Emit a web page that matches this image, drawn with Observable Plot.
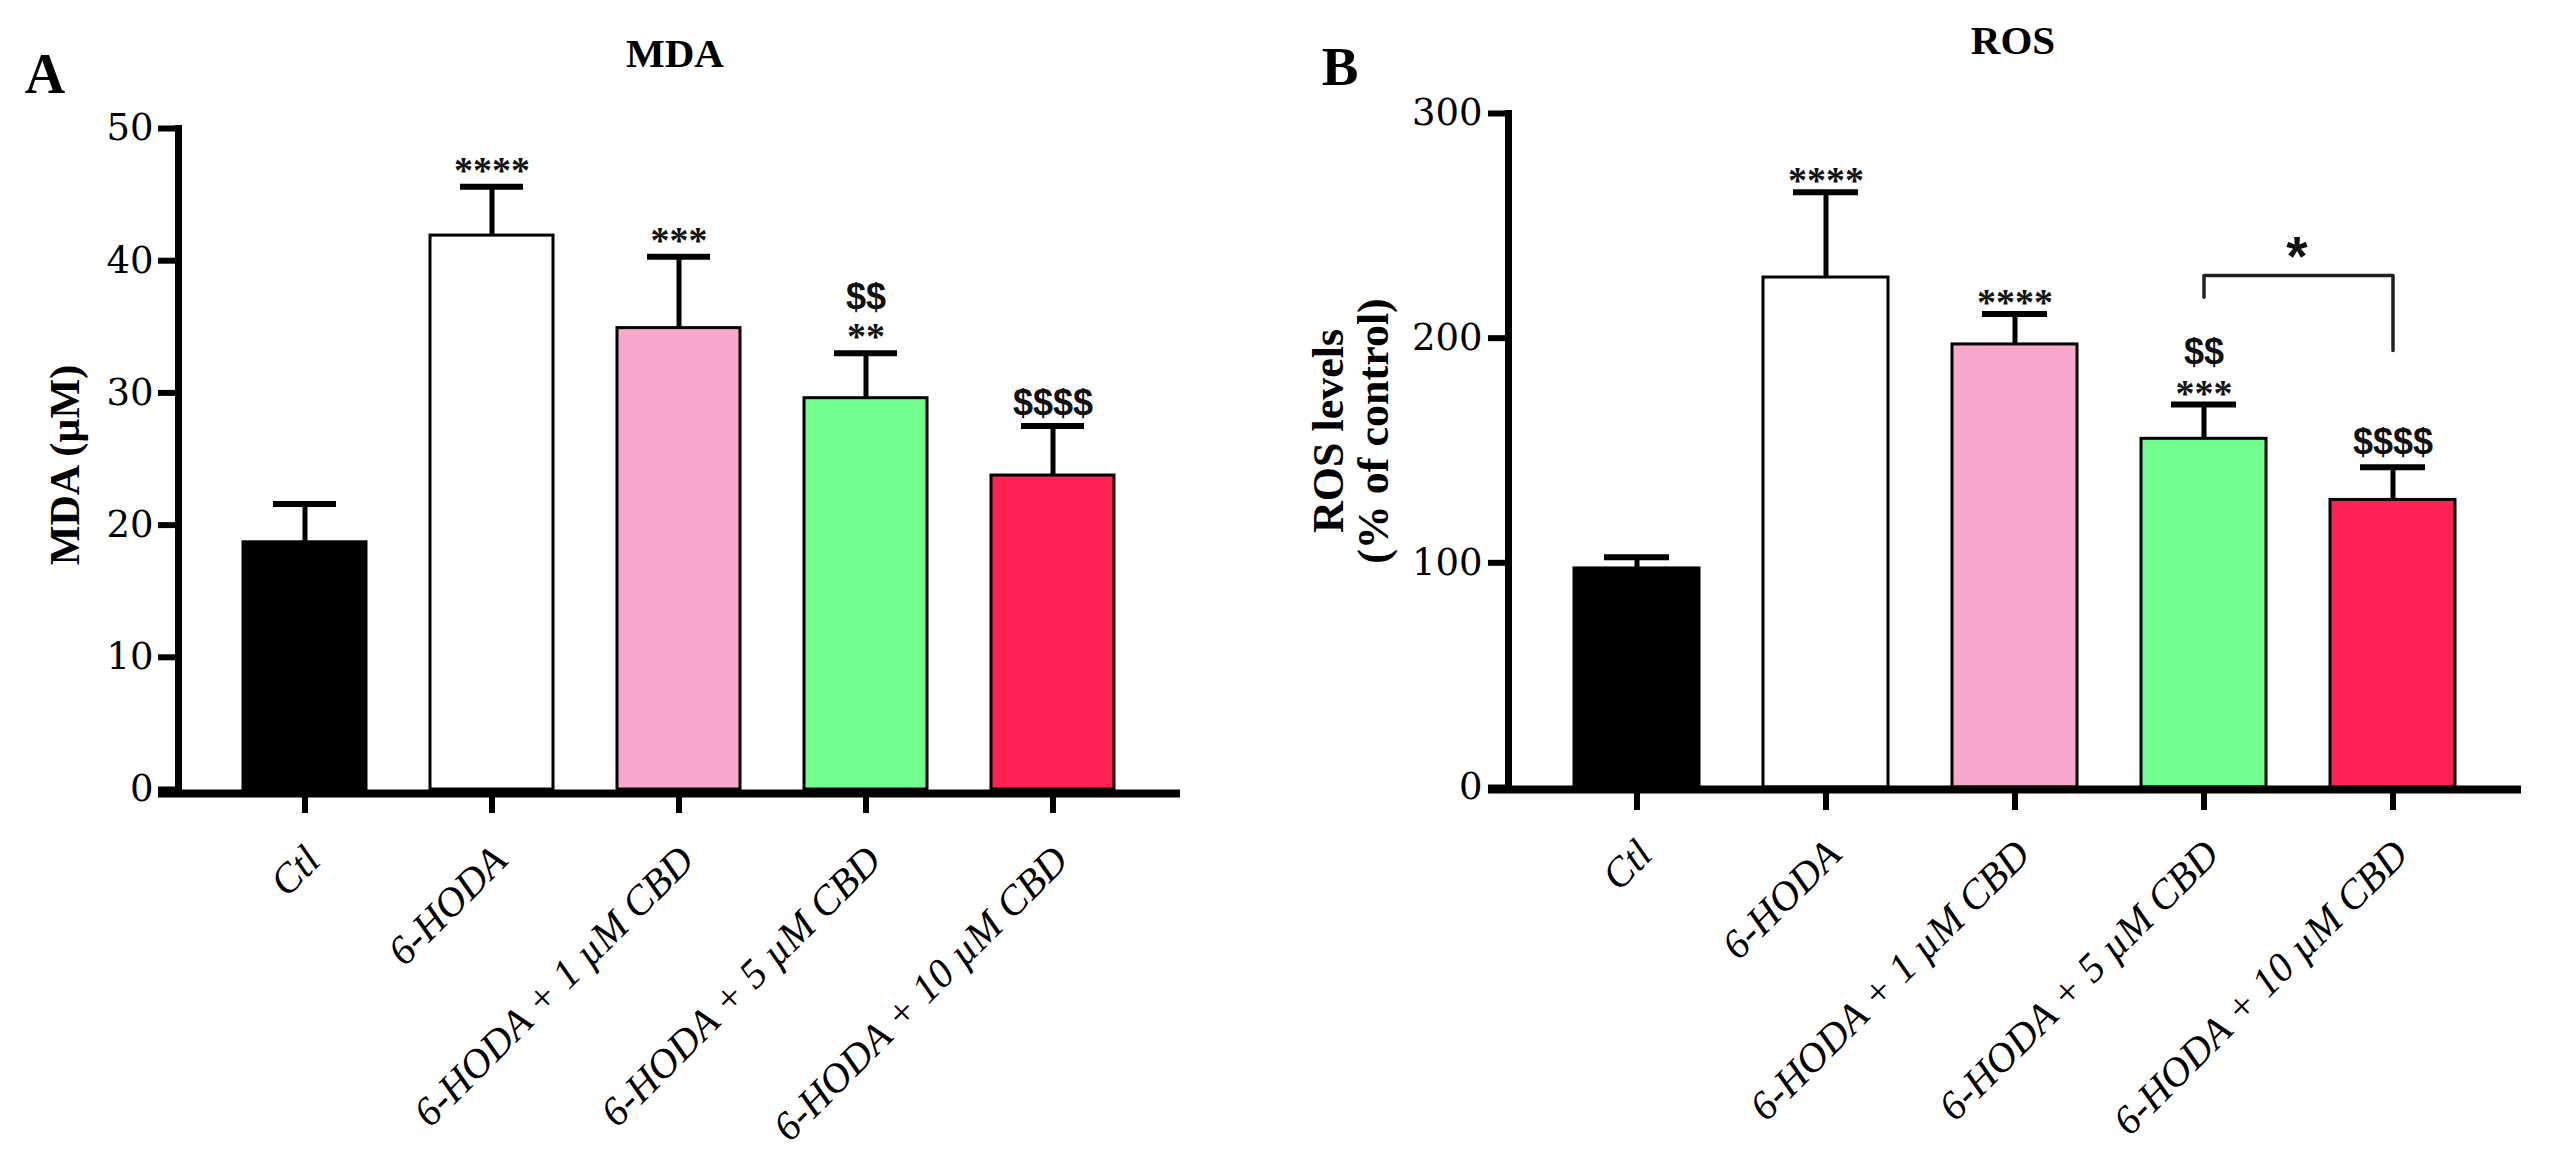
<!DOCTYPE html>
<html>
<head>
<meta charset="utf-8">
<script src="https://cdn.jsdelivr.net/npm/d3@7"></script>
<script src="https://cdn.jsdelivr.net/npm/@observablehq/plot@0.6"></script>
<style>
  html, body { margin: 0; padding: 0; background: #fff; }
  #wrap { position: relative; width: 2560px; height: 1163px; overflow: hidden; background: #fff; }
  #wrap > svg.panel { position: absolute; top: 0; }
  #overlay { position: absolute; left: 0; top: 0; pointer-events: none; }
</style>
</head>
<body>
<div id="wrap"></div>
<script>
// ---------- data ----------
const groups = ["Ctl", "6-HODA", "6-HODA + 1 µM CBD", "6-HODA + 5 µM CBD", "6-HODA + 10 µM CBD"];
const colors = ["#000000", "#FFFFFF", "#F9A7CF", "#72FE8E", "#FE2254"];

const mdaMean  = [18.7, 41.9, 34.9, 29.6, 23.75];
const mdaUpper = [21.6, 45.6, 40.3, 33.0, 27.5];
const mdaStars   = ["", "****", "***", "**", ""];
const mdaDollars = ["", "", "", "$$", "$$$$"];
const mdaTicks = [0, 10, 20, 30, 40, 50];

const rosMean  = [97.5, 227, 197.2, 155.2, 128];
const rosUpper = [102.5, 265, 210.8, 170.5, 142.6];
const rosStars   = ["", "****", "****", "***", ""];
const rosDollars = ["", "", "", "$$", "$$$$"];
const rosTicks = [0, 100, 200, 300];

// comparison bracket (ROS, 5 µM vs 10 µM)
const rosBracketX = [groups[3], groups[3], groups[4], groups[4]];
const rosBracketY = [218.2, 227.9, 227.9, 194.5];
const rosBracketLabel = ["*"];

// ---------- panel builder ----------
function panel(o) {
  const data = groups.map((g, i) => ({
    g, mean: o.mean[i], upper: o.upper[i], color: colors[i],
    stars: o.stars[i], dollars: o.dollars[i]
  }));
  const withStars = data.filter(d => d.stars && d.dollars);
  const dollarsAlone = data.filter(d => !d.stars && d.dollars);
  const marks = [
    Plot.barY(data, {x: "g", y: "mean", fill: "color", stroke: "black", strokeWidth: 3}),
    Plot.ruleX(data, {x: "g", y1: "mean", y2: "upper", stroke: "black", strokeWidth: 5}),
    Plot.tickY(data, {x: "g", y: "upper", stroke: "black", strokeWidth: 6, insetLeft: 30, insetRight: 30}),
    Plot.text(data, {x: "g", y: "upper", text: "stars", dy: o.starDy, lineAnchor: "middle",
      fontFamily: "Liberation Serif", fontWeight: "bold", fontSize: 38, fill: "#111"}),
    Plot.text(withStars, {x: "g", y: "upper", text: "dollars", dy: o.dollarHigh, lineAnchor: "middle",
      fontFamily: "Liberation Sans", fontWeight: "bold", fontSize: 36, fill: "#111"}),
    Plot.text(dollarsAlone, {x: "g", y: "upper", text: "dollars", dy: o.dollarLow, lineAnchor: "middle",
      fontFamily: "Liberation Sans", fontWeight: "bold", fontSize: 36, fill: "#111"}),
    Plot.ruleY([0], {stroke: "black", strokeWidth: 8, dy: o.axisDy, insetLeft: -20}),
    Plot.frame({anchor: "left", stroke: "black", strokeWidth: 7}),
    Plot.axisY({ticks: o.ticks, tickSize: 20, tickPadding: o.tickPad, stroke: "black", strokeWidth: 6,
      fontSize: 37, fontFamily: "DejaVu Serif", label: null, tickFormat: d => String(d)}),
    Plot.axisX({tickSize: o.xTickSize, stroke: "black", strokeWidth: 6, tickFormat: () => "", label: null}),
    Plot.text(groups, {x: d => d, frameAnchor: "bottom", rotate: -45, textAnchor: "end", lineAnchor: "middle",
      dx: 8, dy: o.labelDy, fontSize: 41, fontStyle: "italic", fontFamily: "Liberation Serif", fill: "black"})
  ];
  if (o.extra) marks.push(...o.extra);
  const svg = Plot.plot({
    width: 1280, height: 1163,
    marginLeft: o.marginLeft, marginRight: o.marginRight,
    marginTop: o.marginTop, marginBottom: o.marginBottom,
    style: {background: "transparent", color: "black", overflow: "visible"},
    x: {type: "band", domain: groups, paddingInner: 0.34, paddingOuter: 0.34, axis: null},
    y: {domain: [0, o.yMax], axis: null},
    color: {type: "identity"},
    marks
  });
  svg.classList.add("panel");
  svg.style.left = o.left + "px";
  return svg;
}

const wrap = document.getElementById("wrap");

wrap.appendChild(panel({
  left: 0, mean: mdaMean, upper: mdaUpper, stars: mdaStars, dollars: mdaDollars,
  ticks: mdaTicks, yMax: 50,
  marginLeft: 178, marginRight: 100, marginTop: 128, marginBottom: 374,
  axisDy: 4, xTickSize: 24, tickPad: 5, labelDy: 64,
  starDy: -16, dollarHigh: -56, dollarLow: -22
}));

wrap.appendChild(panel({
  left: 1280, mean: rosMean, upper: rosUpper, stars: rosStars, dollars: rosDollars,
  ticks: rosTicks, yMax: 300,
  marginLeft: 228, marginRight: 39, marginTop: 113, marginBottom: 376,
  axisDy: 2, xTickSize: 23, tickPad: 6, labelDy: 60,
  starDy: -11, dollarHigh: -52, dollarLow: -25,
  extra: [
    Plot.line(rosBracketX.map((x, i) => ({x, y: rosBracketY[i]})),
      {x: "x", y: "y", stroke: "#222", strokeWidth: 3.5, curve: "linear"}),
    Plot.text(rosBracketLabel, {x: () => groups[3], y: () => rosBracketY[1], text: d => d,
      dx: 93, dy: -18, lineAnchor: "middle", fontFamily: "Liberation Sans", fontWeight: "bold",
      fontSize: 55, fill: "#111"})
  ]
}));

// ---------- titles and axis labels ----------
const NS = "http://www.w3.org/2000/svg";
const ov = document.createElementNS(NS, "svg");
ov.setAttribute("id", "overlay");
ov.setAttribute("width", 2560);
ov.setAttribute("height", 1163);
function addText(str, x, y, size, opts = {}) {
  const t = document.createElementNS(NS, "text");
  t.textContent = str;
  t.setAttribute("x", x);
  t.setAttribute("y", y);
  t.setAttribute("font-family", opts.family || "Liberation Serif");
  t.setAttribute("font-weight", opts.weight || "bold");
  t.setAttribute("font-size", size);
  t.setAttribute("text-anchor", opts.anchor || "middle");
  t.setAttribute("fill", "black");
  if (opts.rotate) t.setAttribute("transform", `rotate(${opts.rotate} ${x} ${y})`);
  ov.appendChild(t);
}
addText("A", 45, 93, 56);
addText("B", 1340, 85, 55);
addText("MDA", 675, 67, 41);
addText("ROS", 2013, 54, 41);
addText("MDA (µM)", 79, 465, 42, {rotate: -90});
addText("ROS levels", 1343, 431, 44, {rotate: -90});
addText("(% of control)", 1388, 431, 44, {rotate: -90});
wrap.appendChild(ov);
</script>
</body>
</html>
